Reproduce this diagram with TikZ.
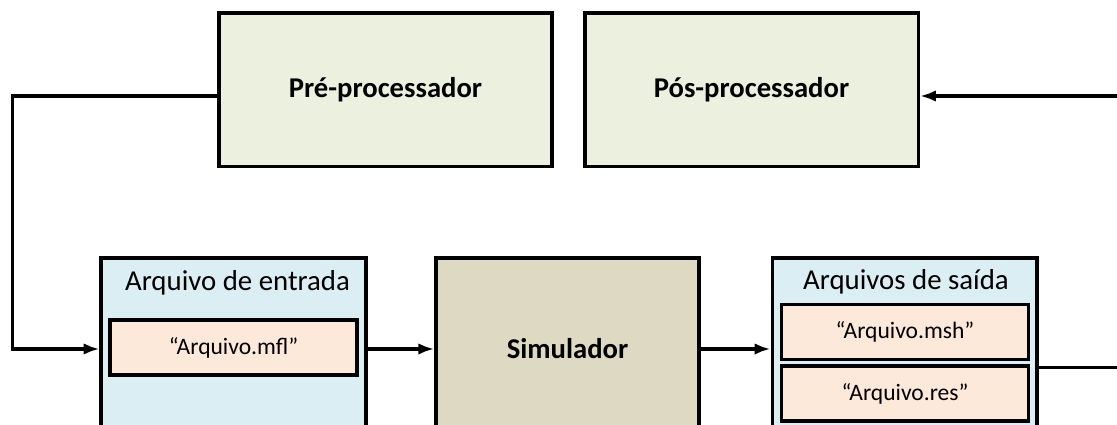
\documentclass[tikz,border=0pt]{standalone}
\usepackage{fontspec}
\setmainfont{Carlito}
\usepackage{tikz}
\usetikzlibrary{arrows.meta}
\definecolor{procfill}{HTML}{EBF1DE}
\definecolor{simfill}{HTML}{DDD9C3}
\definecolor{filefill}{HTML}{DBEEF3}
\definecolor{itemfill}{HTML}{FDE9D9}
\tikzset{
    block/.style    = {shape=rectangle, draw, line width=2pt,
        inner sep=0pt, align=center},
    proc/.style     = {block, fill=procfill, minimum width=6.67cm,
        minimum height=3.07cm, font=\fontsize{16.3}{19}\selectfont\bfseries},
    sim/.style      = {block, fill=simfill, minimum width=5.26cm,
        minimum height=3.64cm, font=\fontsize{16.3}{19}\selectfont\bfseries},
    filebox/.style  = {block, fill=filefill, minimum width=5.29cm,
        minimum height=3.64cm},
    item/.style     = {block, fill=itemfill, minimum width=4.94cm,
        minimum height=1.1cm, font=\fontsize{13.4}{16}\selectfont},
    title/.style    = {font=\fontsize{16.4}{19}\selectfont},
    conn/.style     = {draw, line width=2pt},
    arr/.style      = {conn, -{Latex[length=9pt,width=6.5pt]}}
}

\begin{document}
\begin{tikzpicture}
    \useasboundingbox (0,0) rectangle (22.34,8.5);
    \clip (0,0) rectangle (22.34,8.5);
    % top row
    \node[proc] (pre) at (7.71,6.70) {Pré-processador};
    \node[proc] (pos) at (15.03,6.70) {Pós-processador};
    % bottom row
    \node[filebox] (entrada) at (4.67,1.52) {};
    \node[title] (tentrada) at (4.75,2.84) {Arquivo de entrada};
    \node[item] (mfl) at (4.67,1.55) {“Arquivo.mfl”};
    \node[sim] (sim) at (11.35,1.52) {Simulador};
    \node[filebox] (saida) at (18.09,1.52) {};
    \node[title] (tsaida) at (18.12,2.86) {Arquivos de saída};
    \node[item] (msh) at (18.10,1.86) {“Arquivo.msh”};
    \node[item] (res) at (18.10,0.63) {“Arquivo.res”};
    % connectors
    \coordinate (lft) at (0.25,6.58);
    \coordinate (rgt) at (23,6.58);
    \draw[arr] ([yshift=-0.12cm]pre.west) -- (lft) |- (entrada.west);
    \draw[arr] (entrada.east) -- (sim.west);
    \draw[arr] (sim.east) -- (saida.west);
    \draw[arr] ([yshift=-0.37cm]saida.east) -| (rgt) -- ([yshift=-0.12cm]pos.east);
\end{tikzpicture}
\end{document}
